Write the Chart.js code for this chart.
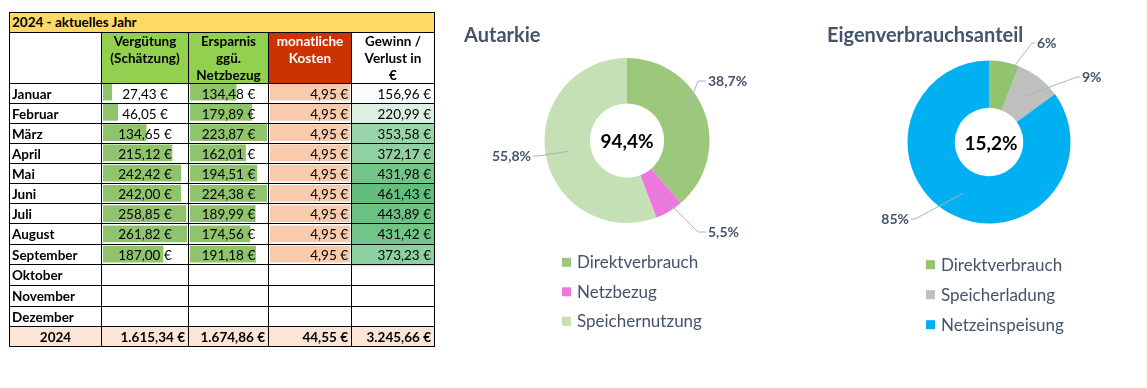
<!DOCTYPE html>
<html>
<head>
<meta charset="utf-8">
<script src="https://cdn.jsdelivr.net/npm/chart.js@4.4.1/dist/chart.umd.min.js"></script>
<style>
html,body{margin:0;padding:0;background:#fff;width:1147px;height:388px;overflow:hidden;}
body{position:relative;font-family:Lato,"Liberation Sans",sans-serif;}
canvas{position:absolute;z-index:0;}
.cell{position:absolute;box-sizing:border-box;border:1px solid #000;display:flex;font-size:13.5px;color:#000;white-space:pre-line;line-height:17px;z-index:1;}
</style>
</head>
<body>
<canvas id="cV" width="84" height="243" style="left:103px;top:82px"></canvas>
<canvas id="cE" width="77" height="243" style="left:190px;top:82px"></canvas>
<canvas id="cK" width="80" height="243" style="left:270px;top:82px"></canvas>
<canvas id="cG" width="82" height="243" style="left:352px;top:83px"></canvas>
<canvas id="cA" width="350" height="388" style="left:450px;top:0px"></canvas>
<canvas id="cEV" width="347" height="388" style="left:800px;top:0px"></canvas>
<div id="table"></div>
<script>
// ---------- DATA ----------
const tableTitle = '2024 - aktuelles Jahr';
const columnHeaders = ['', 'Vergütung\n(Schätzung)', 'Ersparnis\nggü.\nNetzbezug', 'monatliche\nKosten', 'Gewinn /\nVerlust in\n€'];
const months = ['Januar','Februar','März','April','Mai','Juni','Juli','August','September','Oktober','November','Dezember'];
const verguetung = [27.43, 46.05, 134.65, 215.12, 242.42, 242.00, 258.85, 261.82, 187.00, null, null, null];
const ersparnis  = [134.48, 179.89, 223.87, 162.01, 194.51, 224.38, 189.99, 174.56, 191.18, null, null, null];
const kosten     = [4.95, 4.95, 4.95, 4.95, 4.95, 4.95, 4.95, 4.95, 4.95, null, null, null];
const gewinn     = [156.96, 220.99, 353.58, 372.17, 431.98, 461.43, 443.89, 431.42, 373.23, null, null, null];
const totalLabel = '2024';
const totals     = [1615.34, 1674.86, 44.55, 3245.66];

const autarkieTitle  = 'Autarkie';
const autarkieLabels = ['Direktverbrauch', 'Netzbezug', 'Speichernutzung'];
const autarkieValues = [38.7, 5.5, 55.8];
const autarkieCenter = '94,4%';

const eigenTitle  = 'Eigenverbrauchsanteil';
const eigenLabels = ['Direktverbrauch', 'Speicherladung', 'Netzeinspeisung'];
const eigenValues = [6, 9, 85];
const eigenCenter = '15,2%';

// ---------- STYLE / LAYOUT ----------
const FONT = 'Lato, "Liberation Sans", sans-serif';
const colEdges = [9, 101, 188, 268, 351, 434];
const rowEdges = [83, 103, 123, 143, 163, 183, 203, 223, 244, 264, 285, 306, 326, 346];
const headerFills = [null, '#92D050', '#92D050', '#CC3300', null];
const headerText  = ['#000', '#000', '#000', '#fff', '#000'];

function fmtEUR(v){
  const s = v.toFixed(2).split('.');
  return s[0].replace(/\B(?=(\d{3})+(?!\d))/g, '.') + ',' + s[1] + ' €';
}
function hex(c){return [parseInt(c.slice(1,3),16),parseInt(c.slice(3,5),16),parseInt(c.slice(5,7),16)];}
function scaleColor(v, lo, hi, c0, c1){
  if (v == null) return 'rgba(0,0,0,0)';
  const t = (v - lo) / (hi - lo), a = hex(c0), b = hex(c1);
  return 'rgb(' + a.map((x,i)=>Math.round(x + (b[i]-x)*t)).join(',') + ')';
}

// ---------- TABLE ----------
const tbl = document.getElementById('table');
function cell(x0, x1, y0, y1, text, opts){
  const d = document.createElement('div');
  d.className = 'cell';
  d.style.left = x0 + 'px'; d.style.top = y0 + 'px';
  d.style.width = (x1 - x0 + 1) + 'px'; d.style.height = (y1 - y0 + 1) + 'px';
  d.textContent = text;
  Object.assign(d.style, opts || {});
  tbl.appendChild(d);
  return d;
}
cell(colEdges[0], colEdges[5], 12, 32, tableTitle, {background:'#FFD966', fontWeight:'700', alignItems:'center', paddingLeft:'2px'});
for (let c = 0; c < 5; c++) {
  cell(colEdges[c], colEdges[c+1], 32, rowEdges[0], columnHeaders[c], {
    background: headerFills[c] || 'transparent', color: headerText[c], fontWeight:'700',
    justifyContent:'center', alignItems:'flex-start', textAlign:'center'});
}
const cols = [verguetung, ersparnis, kosten, gewinn];
const aligns = ['center', 'center', 'flex-end', 'flex-end'];
for (let r = 0; r < months.length; r++) {
  const y0 = rowEdges[r], y1 = rowEdges[r+1];
  cell(colEdges[0], colEdges[1], y0, y1, months[r], {fontWeight:'700', alignItems:'center', paddingLeft:'2px', paddingTop:'1px'});
  for (let c = 0; c < 4; c++) {
    const v = cols[c][r];
    cell(colEdges[c+1], colEdges[c+2], y0, y1, v == null ? '' : fmtEUR(v), {
      alignItems:'center', justifyContent:aligns[c], paddingRight: aligns[c]==='flex-end' ? '3px' : '0', paddingTop:'1px'});
  }
}
const yT0 = rowEdges[12], yT1 = rowEdges[13];
cell(colEdges[0], colEdges[1], yT0, yT1, totalLabel, {background:'#FCE4D6', fontWeight:'700', alignItems:'center', justifyContent:'center', paddingTop:'1px'});
for (let c = 0; c < 4; c++) {
  cell(colEdges[c+1], colEdges[c+2], yT0, yT1, fmtEUR(totals[c]), {background:'#FCE4D6', fontWeight:'700', alignItems:'center', justifyContent:'flex-end', paddingRight:'3px', paddingTop:'1px'});
}

// ---------- DATA BARS (Chart.js) ----------
const baseBarOpts = (max) => ({
  indexAxis:'y', responsive:false, animation:false, events:[],
  layout:{padding:0},
  scales:{x:{display:false, min:0, max:max}, y:{display:false}},
  plugins:{legend:{display:false}, tooltip:{enabled:false}}
});
function dataBars(id, values, color){
  const max = Math.max(...values.filter(v => v != null));
  return new Chart(document.getElementById(id), {
    type:'bar',
    data:{labels:months, datasets:[{data:values, backgroundColor:color, borderWidth:0, barThickness:16}]},
    options: baseBarOpts(max)
  });
}
dataBars('cV', verguetung, '#8FC36C');
dataBars('cE', ersparnis, '#8FC36C');
dataBars('cK', kosten, '#F8CBAD');

// colour-scale column (Gewinn / Verlust)
const gVals = gewinn.filter(v => v != null);
const gLo = Math.min(...gVals), gHi = Math.max(...gVals);
new Chart(document.getElementById('cG'), {
  type:'bar',
  data:{labels:months, datasets:[{
    data: gewinn.map(v => v == null ? null : [0, 1]),
    backgroundColor: gewinn.map(v => scaleColor(v, gLo, gHi, '#FCFCFF', '#63BE7B')),
    borderWidth:0, categoryPercentage:1, barPercentage:1}]},
  options: baseBarOpts(1)
});

// ---------- DOUGHNUTS ----------
function decor(cfg){
  return {
    id:'decor',
    afterDraw(chart){
      const ctx = chart.ctx;
      const meta = chart.getDatasetMeta(0);
      ctx.save();
      // title
      ctx.fillStyle = '#44546A';
      ctx.font = '700 20px ' + FONT;
      ctx.textAlign = 'left'; ctx.textBaseline = 'alphabetic';
      ctx.fillText(cfg.title, cfg.titlePos[0], cfg.titlePos[1]);
      let cx = 0, cy = 0;
      meta.data.forEach((arc, i) => {
        const p = arc.getProps(['x','y','startAngle','endAngle','innerRadius','outerRadius'], true);
        cx = p.x; cy = p.y;
        const mid = (p.startAngle + p.endAngle) / 2;
        const rr = (p.innerRadius + p.outerRadius) / 2;
        const sx = p.x + rr * Math.cos(mid), sy = p.y + rr * Math.sin(mid);
        const co = cfg.callouts[i];
        const ex = p.x + co.elbow[0], ey = p.y + co.elbow[1];
        const side = co.elbow[0] >= 0 ? 1 : -1;
        const hx = ex + side * co.len;
        ctx.strokeStyle = '#A9B3C3'; ctx.lineWidth = 1;
        ctx.beginPath(); ctx.moveTo(sx, sy); ctx.lineTo(ex, ey); ctx.lineTo(hx, ey); ctx.stroke();
        const txt = cfg.values[i].toFixed(cfg.decimals).replace('.', ',') + '%';
        ctx.fillStyle = '#44546A';
        ctx.font = '700 14px ' + FONT;
        ctx.textAlign = side > 0 ? 'left' : 'right';
        ctx.fillText(txt, hx + side * 2, ey + 5);
      });
      // center
      ctx.fillStyle = '#000';
      ctx.font = '700 19px ' + FONT;
      ctx.textAlign = 'center';
      ctx.fillText(cfg.center, cx + cfg.centerDx, cy + 7.5);
      // legend
      ctx.font = '400 17px ' + FONT;
      ctx.textAlign = 'left';
      cfg.labels.forEach((lab, i) => {
        const by = cfg.legend.y0 + i * cfg.legend.step;
        ctx.fillStyle = cfg.colors[i];
        ctx.fillRect(cfg.legend.x, by - 10.5, 9, 9);
        ctx.fillStyle = '#44546A';
        ctx.fillText(lab, cfg.legend.x + 15, by);
      });
      ctx.restore();
    }
  };
}
function doughnut(id, cfg){
  return new Chart(document.getElementById(id), {
    type:'doughnut',
    data:{labels:cfg.labels, datasets:[{data:cfg.values, backgroundColor:cfg.colors, borderWidth:0, hoverOffset:0}]},
    options:{responsive:false, animation:false, events:[], cutout:cfg.cutout,
      layout:{padding:cfg.padding},
      plugins:{legend:{display:false}, tooltip:{enabled:false}, title:{display:false}}},
    plugins:[decor(cfg)]
  });
}
doughnut('cA', {
  title: autarkieTitle, titlePos:[14, 42],
  labels: autarkieLabels, values: autarkieValues, decimals:1,
  colors:['#9BC87B', '#EE77DE', '#C5E0B4'],
  cutout:'45%',
  padding:{left:94.5, right:90.5, top:58, bottom:165},
  center: autarkieCenter, centerDx:0,
  callouts:[{elbow:[71,-59.5], len:8}, {elbow:[71,91.5], len:8}, {elbow:[-89,15.5], len:5}],
  legend:{x:112, y0:268.3, step:29.5}
});
doughnut('cEV', {
  title: eigenTitle, titlePos:[27, 42],
  labels: eigenLabels, values: eigenValues, decimals:0,
  colors:['#92C46E', '#BFBFBF', '#00B0F0'],
  cutout:'42%',
  padding:{left:107.5, right:76.5, top:60.5, bottom:164.5},
  center: eigenCenter, centerDx:2,
  callouts:[{elbow:[43,-99], len:3}, {elbow:[88,-65], len:3}, {elbow:[-74,77], len:4}],
  legend:{x:126, y0:270.7, step:30}
});
</script>
</body>
</html>
